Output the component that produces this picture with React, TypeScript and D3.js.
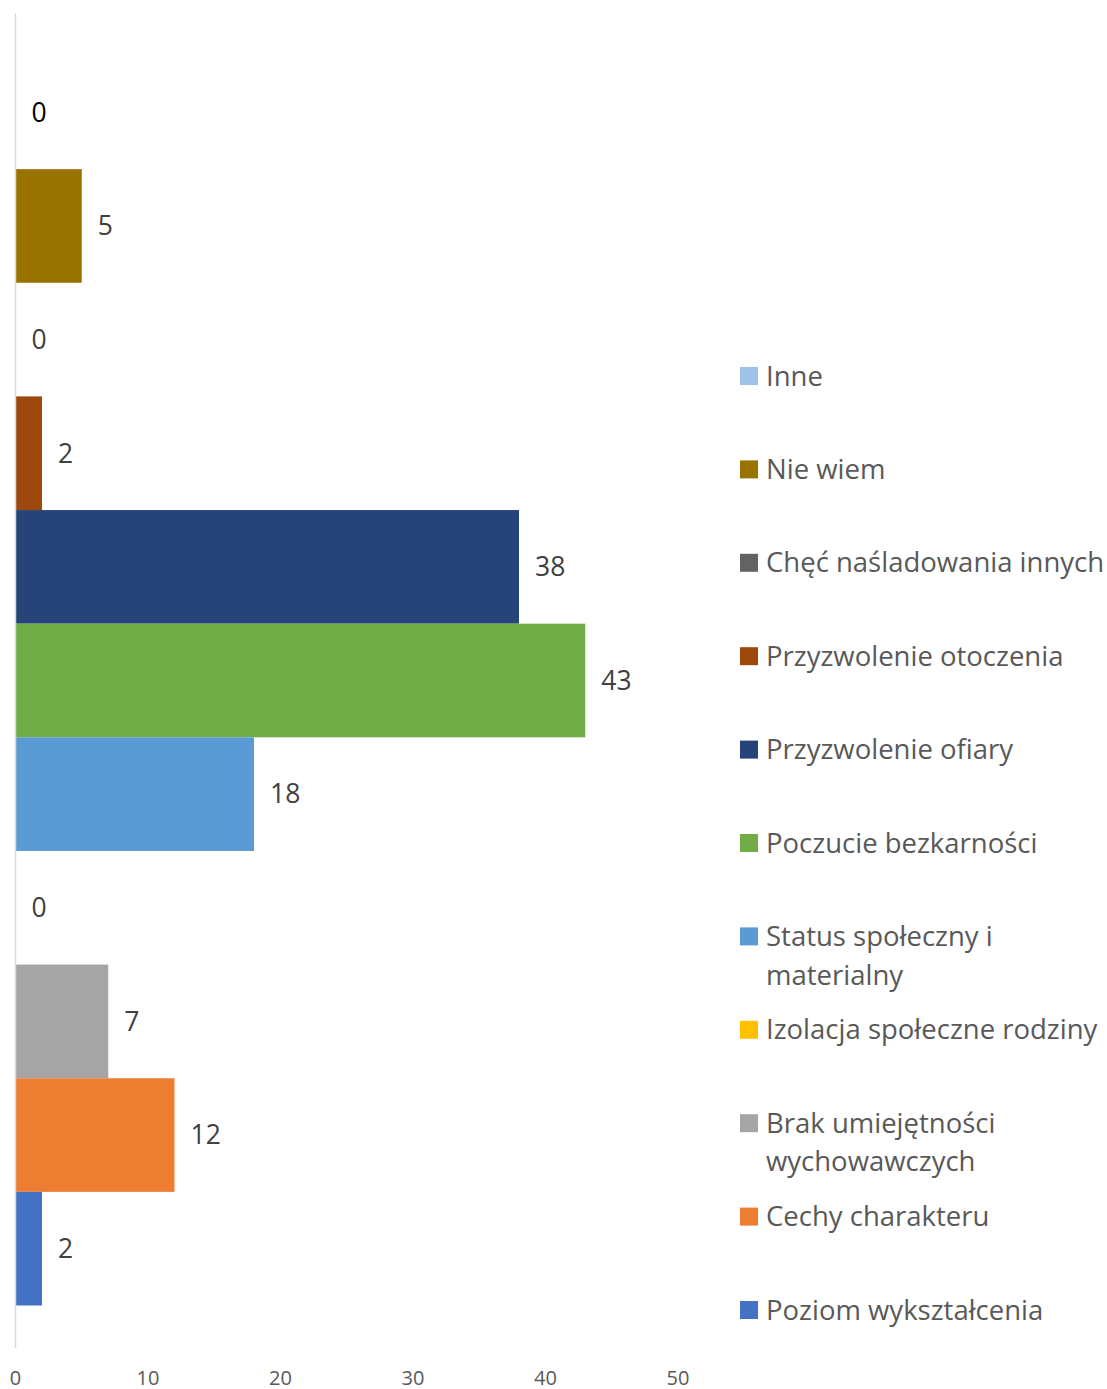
import React from "react";
import * as d3 from "d3";

const seriesNames: string[][] = [
  ["Inne"],
  ["Nie wiem"],
  ["Chęć naśladowania innych"],
  ["Przyzwolenie otoczenia"],
  ["Przyzwolenie ofiary"],
  ["Poczucie bezkarności"],
  ["Status społeczny i", "materialny"],
  ["Izolacja społeczne rodziny"],
  ["Brak umiejętności", "wychowawczych"],
  ["Cechy charakteru"],
  ["Poziom wykształcenia"],
];
const seriesValues: number[] = [0, 5, 0, 2, 38, 43, 18, 0, 7, 12, 2];
const seriesColors: string[] = [
  "#9DC3E6", "#997300", "#636363", "#9E480E", "#264478", "#70AD47",
  "#5B9BD5", "#FFC000", "#A5A5A5", "#ED7D31", "#4472C4",
];
const xTicks: number[] = [0, 10, 20, 30, 40, 50];

const W = 1107;
const H = 1389;
const FONT = "'Open Sans', 'Liberation Sans', sans-serif";

export default function App() {
  const x = d3.scaleLinear().domain([0, 50]).range([15.5, 678]);
  const plotTop = 13;
  const plotBottom = 1348;
  const gap = 42.5;
  const y = d3
    .scaleBand<number>()
    .domain(d3.range(seriesValues.length))
    .range([plotTop + gap, plotBottom - gap])
    .paddingInner(0)
    .paddingOuter(0);

  const legendY = d3
    .scaleLinear()
    .domain([0, seriesNames.length - 1])
    .range([376, 1310]);

  return (
    <svg
      width={W}
      height={H}
      style={{ position: "absolute", left: 0, top: 0, background: "#fff" }}
      fontFamily={FONT}
    >
      <rect x={0} y={0} width={W} height={H} fill="#fff" />
      {seriesValues.map((v, i) => (
        <g key={i}>
          <rect
            x={x(0)}
            y={y(i)!}
            width={Math.max(0, x(v) - x(0))}
            height={y.bandwidth()}
            fill={seriesColors[i]}
          />
          <text
            x={x(v) + 16}
            y={y(i)! + y.bandwidth() / 2}
            dy="0.35em"
            fontSize={26.5}
            fill={i === 0 ? "#000" : "#404040"}
          >
            {v}
          </text>
        </g>
      ))}
      <line
        x1={x(0)}
        x2={x(0)}
        y1={plotTop}
        y2={plotBottom}
        stroke="#d9d9d9"
        strokeWidth={1.5}
      />
      {xTicks.map((t) => (
        <text
          key={t}
          x={x(t)}
          y={1378}
          dy="0.35em"
          textAnchor="middle"
          fontSize={20}
          fill="#595959"
        >
          {t}
        </text>
      ))}
      {seriesNames.map((lines, i) => (
        <g key={i}>
          <rect
            x={740}
            y={legendY(i) - 9}
            width={18}
            height={18}
            fill={seriesColors[i]}
          />
          {lines.map((ln, j) => (
            <text
              key={j}
              x={766}
              y={legendY(i) + j * 38.5}
              dy="0.35em"
              fontSize={27.5}
              fill="#595959"
            >
              {ln}
            </text>
          ))}
        </g>
      ))}
    </svg>
  );
}
